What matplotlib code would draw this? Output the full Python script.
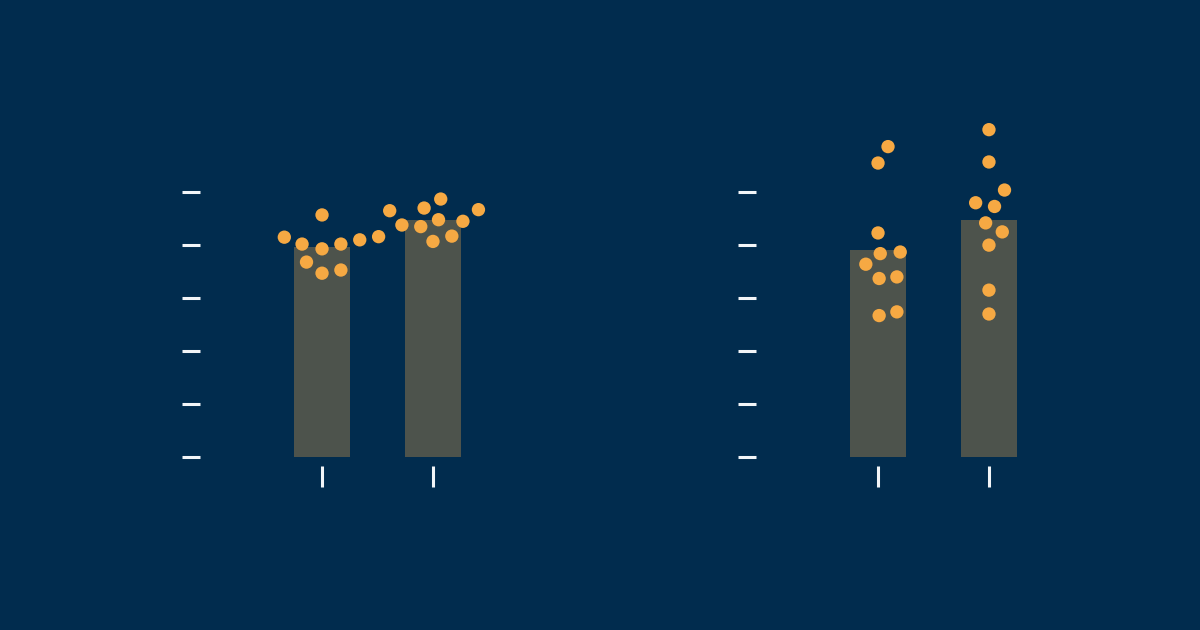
import matplotlib
matplotlib.use('Agg')
import matplotlib.pyplot as plt

# ── Data ───────────────────────────────────────────────────────────
categories = [0, 1]

left_bars = [3.96, 4.48]
left_x = [-0.34, -0.18, 0.00, 0.00, -0.14, 0.00, 0.17, 0.17, 0.34, 0.51,
          0.61, 0.72, 0.89, 0.92, 1.07, 1.05, 1.00, 1.17, 1.27, 1.41]
left_y = [4.15, 4.02, 4.57, 3.93, 3.68, 3.47, 4.02, 3.53, 4.10, 4.16,
          4.65, 4.38, 4.35, 4.70, 4.87, 4.48, 4.07, 4.17, 4.45, 4.67]

right_bars = [3.91, 4.48]
right_x = [0.09, 0.00, 0.00, 0.02, 0.20, -0.11, 0.01, 0.17, 0.01, 0.17,
           1.00, 1.00, 1.14, 0.88, 1.05, 0.97, 1.12, 1.00, 1.00, 1.00]
right_y = [5.86, 5.55, 4.23, 3.84, 3.87, 3.64, 3.37, 3.40, 2.67, 2.74,
           6.18, 5.57, 5.04, 4.80, 4.73, 4.42, 4.25, 4.00, 3.15, 2.70]

y_ticks = [0, 1, 2, 3, 4, 5]

# ── Style ──────────────────────────────────────────────────────────
BG = '#012c4e'
BAR = '#4d534c'
DOT = '#f6a943'
TICK = '#f2f5f8'

fig = plt.figure(figsize=(12, 6.3), dpi=100)
fig.patch.set_facecolor(BG)

panels = [
    (left_bars, left_x, left_y, 200 / 1200),
    (right_bars, right_x, right_y, 756 / 1200),
]

for bars, xs, ys, left in panels:
    ax = fig.add_axes([left, 173 / 630, 355 / 1200, 357 / 630])
    ax.set_facecolor(BG)
    ax.bar(categories, bars, width=0.5, color=BAR, zorder=1)
    ax.scatter(xs, ys, s=92, color=DOT, edgecolors='none', zorder=3)
    ax.set_xlim(-1.1, 2.1)
    ax.set_ylim(0, 6.74)
    ax.set_xticks(categories)
    ax.set_yticks(y_ticks)
    ax.set_xticklabels([])
    ax.set_yticklabels([])
    for s in ax.spines.values():
        s.set_visible(False)
    ax.spines['bottom'].set_position(('outward', 6.5))
    ax.tick_params(axis='x', length=15, width=2.2, color=TICK, direction='out')
    ax.tick_params(axis='y', length=13, width=2.2, color=TICK, direction='out')

plt.savefig('out.png', dpi=100, facecolor=BG)
